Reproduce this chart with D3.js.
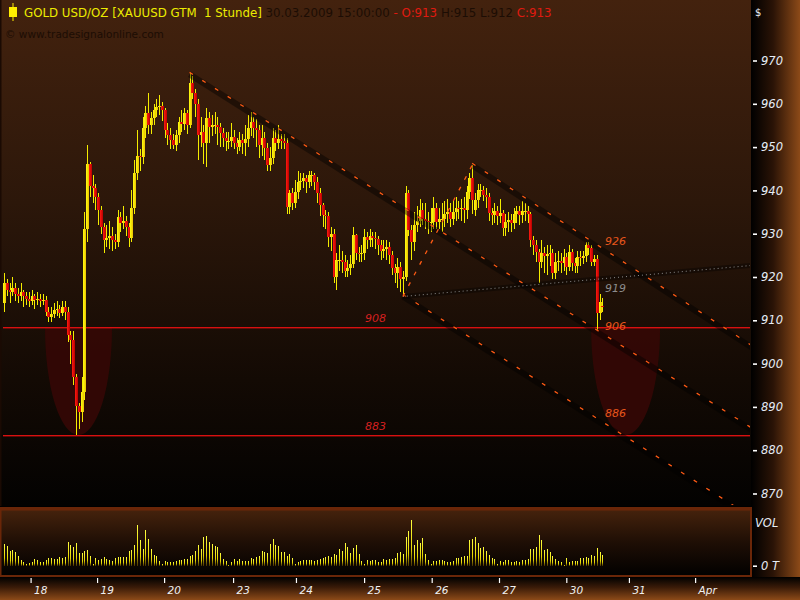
<!DOCTYPE html>
<html><head><meta charset="utf-8">
<script src="https://cdn.jsdelivr.net/npm/d3@7"></script>
<style>html,body{margin:0;padding:0;background:#000;}svg{display:block}</style>
</head><body>
<svg id="chart" width="800" height="600"></svg>
<script>
const opens = [
914,918.5,917,916.5,917.5,916,915.5,916.5,915.5,915,
914.5,915.5,914.8,915,914.5,914.8,912,910.8,911.5,912.3,
912.5,911.8,913,912,906.5,905.5,897,890.3,888.8,893.4,
931,946,941,940.5,938.5,935.5,931.5,928.5,929,929.5,
928.5,928,933.8,932.4,933,931.5,929,936,944,948,
947.7,954.4,957.9,955,956.7,958.6,959.3,959.6,958.6,954,
952.8,951.6,950.5,952.8,955.8,955.3,957.9,955,964.8,962.5,
960,952.8,953.5,951,956.7,954.6,955,955.2,954.6,953.3,
952,951.5,951.5,952.3,951,950,951.6,951,951.8,954.4,
955.8,954.4,954,950.5,952,949.8,945.9,947.5,952,951,
951.8,951.3,951,936.2,939.4,937,939.7,942,942.2,942.8,
942,943.5,943.5,942,939.4,936.6,934.3,934,929.2,930,
920,923.9,924,923.5,921.5,922,923,929.6,925.6,925.3,
925.5,929.2,928.5,929.5,929,928.8,927.4,925.9,926.5,927,
925,922,920.9,922.3,919.5,920,939.4,930.8,928,932,
933,935.5,933.5,933,932.7,932.8,935.9,932.7,933.5,933.5,
934.5,935,933.5,935,936,935.8,936,935.4,939.6,942.8,
935.5,937.7,940,940.2,939,938.5,934.8,934.3,935.3,934.2,
934.8,931.3,932.8,933.2,932.5,934.5,935.2,934.3,935.3,935.3,
934.5,928.5,927.4,925.8,923.5,925.5,924.8,925.2,925.6,921,
923.5,923.8,923.2,924.6,922.3,925.8,923.2,922.5,924.6,924.4,
924.8,927.4,926.8,923.5,924.2,911.7,913.4];
const highs = [
921,919.5,918.5,920,918.5,917.5,918.5,917,916.5,916.5,
917,916,916.5,916,916,915.5,913,913,914,914.5,
913.5,914.5,914.5,913,907.5,907.5,897.5,891,897,935,
950.5,946.5,943.5,941.5,939.5,936.5,932.5,932,933,931.5,
930,935.5,935,936.5,934,932.5,940,947,954,949.5,
957,959.5,962.5,958,960,961,962,960.5,959,955.5,
954.5,953,954,957,958.5,959,958.5,967,966.5,963.5,
961,957,955,959,958,957.5,958,957,955.5,954.5,
953.5,953.5,955.5,954,952,953.5,953,955,957.5,958,
957,956.5,955,955,953.5,951,950,954.5,954,955,
953,953,952,940,940.5,942.5,944.5,944,944,943.5,
944.5,944.5,944,943,940.5,937,935.5,935,931.5,931,
925.5,927.5,926,925,924,925,931.5,930,927,927.5,
931,930.5,931,930.5,930.5,929.5,928.5,928.5,928.5,928,
926,923,924.5,923.5,921.5,941,940,932,935,936.5,
938,937,937,935,936,938.5,937,936,937,937.5,
938,937,937.5,938.5,937.5,938,938.5,941,944,945.8,
939.5,941.5,941.5,941,940.5,939.5,936,937,936.5,938,
935.5,934.5,935,934.5,936,936.5,936.5,937.5,937,936.5,
935,929.5,928.5,926.5,928.5,927,927.5,927.5,926.5,925.5,
926,925.5,926.5,925.5,927.5,926.5,924.5,926,926,926,
928,928,927.5,925,925,916,915.2];
const lows = [
912,915.5,914,915.5,914.5,914,914.5,913,913.5,913,
913.5,912.5,913.5,913,913.5,911,909.5,909.5,910.5,911,
910.5,911,910,905,900,895,883.5,885,886.5,891.5,
928,938.5,937,935.5,932,930,925.5,927,926.5,926,
926.5,927,930.5,931,929.5,927,928,934.5,942.5,944.5,
946,952,953,953,955,957,957.5,956,952,950.5,
949.5,949.5,949,951,953.5,954,953,954.5,961,957,
947,950,946,945.5,951,952.5,953,950.5,950,950,
949,949.5,950,949.5,948.5,949,948.5,948,950,952.5,
952,950,947.5,948,947,944.5,944.5,946,949,949.5,
949.5,949.5,934.5,934.5,935.5,936,938,940,940.5,939.5,
940.5,941,940,937,934,931.5,931,927,926,918.5,
917,921.5,921,920,920,920.5,922,924,923.5,923.5,
924,926.5,927,927,926.5,925,924,924.5,924,923,
920.5,918.5,917.5,916.5,915.5,919,929.5,924,926,930.5,
931.5,932,931,930,930.5,931,931,931,930.5,931.5,
932.5,931.5,932,933,933.5,933,932.5,933.5,938,934.5,
934,936,938.5,937.5,936,933,932,932.5,932,932.5,
929.5,929.5,930.5,930.5,931,932.5,932,932.5,933,932.5,
927,925,923.5,918.5,922,921,920.5,922.5,919.5,919.5,
921.5,921,921.5,920.5,921.5,921.5,921,921,922.5,923,
923.5,925,922.5,922.5,907.5,910,912];
const closes = [
918.5,917,916.5,917.5,916,915.5,916.5,915.5,915,914.5,
915.5,914.8,915,914.5,914.8,912,910.8,911.5,912.3,912.5,
911.8,913,912,906.5,905.5,897,890.3,888.8,893.4,931,
946,941,940.5,938.5,935.5,931.5,928.5,929,929.5,928.5,
928,933.8,932.4,933,931.5,929,936,944,948,947.7,
954.4,957.9,955,956.7,958.6,959.3,959.6,958.6,954,952.8,
951.6,950.5,952.8,955.8,955.3,957.9,955,964.8,962.5,960,
952.8,953.5,951,956.7,954.6,955,955.2,954.6,953.3,952,
951.5,951.5,952.3,951,950,951.6,951,951.8,954.4,955.8,
954.4,954,950.5,952,949.8,945.9,947.5,952,951,951.8,
951.3,951,936.2,939.4,937,939.7,942,942.2,942.8,942,
943.5,943.5,942,939.4,936.6,934.3,934,929.2,930,920,
923.9,924,923.5,921.5,922,923,929.6,925.6,925.3,925.5,
929.2,928.5,929.5,929,928.8,927.4,925.9,926.5,927,925,
922,920.9,922.3,919.5,920,939.4,930.8,928,932,933,
935.5,933.5,933,932.7,932.8,935.9,932.7,933.5,933.5,934.5,
935,933.5,935,936,935.8,936,935.4,939.6,942.8,937.8,
937.7,940,940.2,939,938.5,934.8,934.3,935.3,934.2,934.8,
931.3,932.8,933.2,932.5,934.5,935.2,934.3,935.3,935.3,934.5,
928.5,927.4,925.8,923.5,925.5,924.8,925.2,925.6,921,923.5,
923.8,923.2,924.6,922.3,925.8,923.2,922.5,924.6,924.4,924.8,
927.4,926.8,923.5,924.2,911.7,914.2,913];
const volumes = [
65,59,44,47,41,29,17,11,5,9,
11,20,17,11,11,17,23,23,20,20,
26,23,26,71,62,56,68,38,38,44,
47,29,5,23,17,20,26,20,17,14,
23,26,26,26,26,44,47,62,122,77,
50,107,80,50,32,29,14,5,14,11,
11,11,14,17,17,20,20,29,32,44,
62,50,86,89,71,65,59,56,38,20,
14,2,11,20,14,20,14,14,14,23,
20,26,29,44,41,38,65,80,62,59,
41,41,29,35,23,5,11,14,17,17,
17,17,14,17,20,23,26,29,26,35,
32,50,44,68,56,38,53,62,35,14,
5,17,14,17,17,11,11,20,17,20,
20,23,38,41,35,
86,104,137,62,77,68,83,35,17,5,
14,14,17,17,14,11,11,14,23,23,
26,29,29,77,80,86,68,53,56,44,
32,23,20,5,14,11,17,17,11,11,
14,11,17,17,20,50,50,56,92,77,
47,50,41,29,20,14,11,2,23,11,
14,14,14,23,23,26,23,32,29,53,
41,32];
const dayTicks = [9.6,33.6,57.8,82.7,105.4,130,154.4,178.7,203,225.6,249.5];
const dayLabels = ["18","19","20","23","24","25","26","27","30","31","Apr"];
const priceTicks = [970,960,950,940,930,920,910,900,890,880,870];
const levelValues = [908.4, 883.5];
const levelLabels = ["908","883"];
const cupCenters = [26.9, 224.4];
const cupHalfWidths = [12.1, 12.45];
const trendNames = ["A","B","C"];
const trendStartIdx = [67,169,144];
const trendStartPrice = [966.8,945.8,915.5];
const trendRefIdx = [216,216,216];
const trendRefPrice = [906.5,926.2,886.1];
const dottedLine = {i1:144,p1:915.5,i2:216,p2:919.6};
const vLeg = {i1:144,p1:915.5,i2:169,p2:945.8};
const rightLabels = [{t:"926",c:"#e8561c",y:245},{t:"919",c:"#8c8c8c",y:292},{t:"906",c:"#e8561c",y:330},{t:"886",c:"#e8561c",y:417}];

const svg = d3.select("#chart");
const defs = svg.append("defs");
function lin(id, x2, y2, stops){
  const g = defs.append("linearGradient").attr("id",id).attr("x1",0).attr("y1",0).attr("x2",x2).attr("y2",y2);
  stops.forEach(s=>g.append("stop").attr("offset",s[0]).attr("stop-color",s[1]));
}
lin("gMain",0,1,[[0,"#43220e"],[0.4,"#2c170a"],[0.75,"#130a04"],[1,"#030201"]]);
lin("gRight",1,0,[[0,"#000000"],[0.45,"#2a1306"],[1,"#8c4a18"]]);
lin("gBottom",0,1,[[0,"#000000"],[0.45,"#3a1b08"],[1,"#8c4a18"]]);
lin("gVolBg",0,1,[[0,"#44220c"],[0.5,"#1e0e05"],[1,"#020100"]]);
lin("gVol",0,1,[[0,"#ffff40"],[0.65,"#e4d400"],[1,"#4a3400"]]);
lin("gUp",1,0,[[0,"#ffff10"],[1,"#e8c000"]]);
lin("gDn",1,0,[[0,"#ff1a10"],[1,"#b80000"]]);
defs.append("clipPath").attr("id","clipPlot").append("rect").attr("x",3).attr("y",0).attr("width",747).attr("height",505);

svg.append("rect").attr("width",800).attr("height",600).attr("fill","#000");
svg.append("rect").attr("x",0).attr("y",577).attr("width",800).attr("height",23).attr("fill","url(#gBottom)");
svg.append("rect").attr("x",751).attr("y",0).attr("width",49).attr("height",577).attr("fill","url(#gRight)");
svg.append("rect").attr("x",0).attr("y",0).attr("width",751).attr("height",506).attr("fill","url(#gMain)");
svg.append("rect").attr("x",0).attr("y",0).attr("width",1.5).attr("height",506).attr("fill","#1a0a03");
svg.append("rect").attr("x",0).attr("y",507).attr("width",752).attr("height",70).attr("fill","#6a2608");
svg.append("rect").attr("x",1.5).attr("y",510.5).attr("width",748.5).attr("height",64.5).attr("fill","url(#gVolBg)");

const x = d3.scaleLinear().domain([0,270]).range([4, 4+270*2.77]);
const y = d3.scaleLinear().domain([870,970]).range([493.5,60.5]);
const yv = d3.scaleLinear().domain([0,162]).range([565.7,511.7]);

const plot = svg.append("g").attr("clip-path","url(#clipPlot)");

cupCenters.forEach((c,k)=>{
  const cx = x(c), rx = x(c+cupHalfWidths[k]) - cx;
  const yt = y(levelValues[0]), yb = y(levelValues[1]);
  plot.append("path").attr("d",`M${cx-rx},${yt} A${rx},${yb-yt} 0 0 0 ${cx+rx},${yt} Z`)
    .attr("fill","#340805").attr("opacity",0.92);
});
levelValues.forEach((v,k)=>{
  plot.append("rect").attr("x",3).attr("width",747).attr("y",Math.round(y(v))).attr("height",1.4)
    .attr("fill","#d81010");
  svg.append("text").attr("x",365).attr("y",y(v)-5).text(levelLabels[k])
    .attr("fill","#d42020").attr("font-family","DejaVu Sans").attr("font-style","italic").attr("font-size",11);
});

const idx = d3.range(closes.length);
const cg = plot.append("g").attr("shape-rendering","crispEdges");
cg.selectAll("line.w").data(idx).join("line").attr("class","w")
  .attr("x1",i=>Math.round(x(i))+0.5).attr("x2",i=>Math.round(x(i))+0.5)
  .attr("y1",i=>y(highs[i])).attr("y2",i=>y(lows[i]))
  .attr("stroke","#f4ec00").attr("stroke-width",1);
cg.selectAll("rect.b").data(idx).join("rect").attr("class","b")
  .attr("x",i=>Math.round(x(i))-1).attr("width",3)
  .attr("y",i=>y(Math.max(opens[i],closes[i])))
  .attr("height",i=>Math.max(1,Math.abs(y(opens[i])-y(closes[i]))))
  .attr("fill",i=>closes[i]>=opens[i]?"url(#gUp)":"url(#gDn)");

const xEnd = 270;
function extend(i1,p1,i2,p2){ const s=(p2-p1)/(i2-i1); return [[i1,p1],[xEnd,p1+s*(xEnd-i1)]]; }
const lineGen = d3.line().x(d=>x(d[0])).y(d=>y(d[1]));
trendNames.forEach((n,k)=>{
  const pts = extend(trendStartIdx[k],trendStartPrice[k],trendRefIdx[k],trendRefPrice[k]);
  plot.append("path").attr("d",lineGen(pts)).attr("stroke","rgba(0,0,0,0.42)").attr("stroke-width",6).attr("fill","none");
  plot.append("path").attr("d",lineGen(pts)).attr("transform","translate(0,-2)").attr("stroke","#ff5a14")
    .attr("stroke-width",1.3).attr("stroke-dasharray","4,11").attr("fill","none");
});
const dpts = extend(dottedLine.i1,dottedLine.p1,dottedLine.i2,dottedLine.p2);
plot.append("path").attr("d",lineGen(dpts)).attr("stroke","rgba(0,0,0,0.35)").attr("stroke-width",5).attr("fill","none");
plot.append("path").attr("d",lineGen(dpts)).attr("stroke","#8a8a8a").attr("stroke-width",1).attr("stroke-dasharray","1,3").attr("fill","none");
plot.append("path").attr("d",lineGen([[vLeg.i1,vLeg.p1],[vLeg.i2,vLeg.p2]])).attr("stroke","#ff5a14")
  .attr("stroke-width",1.3).attr("stroke-dasharray","4,8").attr("fill","none");

rightLabels.forEach(l=>{
  svg.append("text").attr("x",605).attr("y",l.y).text(l.t).attr("fill",l.c)
    .attr("font-family","DejaVu Sans").attr("font-style","italic").attr("font-size",11);
});

svg.append("g").attr("shape-rendering","crispEdges").selectAll("rect").data(volumes).join("rect")
  .attr("x",(d,i)=>Math.round(x(i))).attr("width",1)
  .attr("y",d=>yv(d)).attr("height",d=>yv(0)-yv(d)).attr("fill","url(#gVol)");

const axisFont = g=>g.selectAll("text").attr("fill","#e6ecf5").attr("font-family","DejaVu Sans").attr("font-style","italic").attr("font-size",11.5);
const ya = svg.append("g").attr("transform","translate(753,0)")
  .call(d3.axisRight(y).tickValues(priceTicks).tickSize(4).tickPadding(4).tickFormat(d3.format("d")));
ya.select(".domain").remove();
ya.selectAll("line").attr("stroke","#ffffff").attr("stroke-width",1.6);
ya.call(axisFont);
const va = svg.append("g").attr("transform","translate(753,0)")
  .call(d3.axisRight(yv).tickValues([0]).tickSize(4).tickPadding(4).tickFormat(()=>"0 T"));
va.select(".domain").remove();
va.selectAll("line").attr("stroke","#ffffff").attr("stroke-width",1.6);
va.call(axisFont);
svg.append("text").attr("x",755).attr("y",527).text("VOL").attr("fill","#e6ecf5").attr("font-family","DejaVu Sans").attr("font-style","italic").attr("font-size",11.5);
svg.append("text").attr("x",755).attr("y",16).text("$").attr("fill","#e6ecf5").attr("font-family","DejaVu Sans").attr("font-size",10);

const xa = svg.append("g").attr("transform","translate(0,578)")
  .call(d3.axisBottom(x).tickValues(dayTicks).tickSize(5).tickPadding(4).tickFormat((d,i)=>dayLabels[i]));
xa.select(".domain").remove();
xa.selectAll("line").attr("stroke","#ffffff").attr("stroke-width",1.2);
xa.selectAll("text").attr("text-anchor","start").attr("dx",3).attr("fill","#f0f0f0")
  .attr("font-family","DejaVu Sans").attr("font-style","italic").attr("font-size",10.5);

svg.append("line").attr("x1",13).attr("x2",13).attr("y1",3).attr("y2",21).attr("stroke","#ffee00").attr("stroke-width",1);
svg.append("rect").attr("x",9).attr("y",7).attr("width",8).attr("height",10).attr("fill","#ffee00");
const n = closes.length-1;
const ht = svg.append("text").attr("x",24).attr("y",17).attr("font-family","DejaVu Sans").attr("font-size",11.8).attr("xml:space","preserve");
ht.append("tspan").attr("fill","#ecec00").text("GOLD USD/OZ [XAUUSD GTM  1 Stunde] ");
ht.append("tspan").attr("fill","#1c0d04").text("30.03.2009 15:00:00 ");
ht.append("tspan").attr("fill","#e01a10").text("- O:"+Math.round(opens[n])+" ");
ht.append("tspan").attr("fill","#1c0d04").text("H:"+Math.round(highs[n])+" L:"+Math.round(lows[n])+" ");
ht.append("tspan").attr("fill","#e01a10").text("C:"+Math.round(closes[n]));
svg.append("text").attr("x",5).attr("y",38).attr("font-family","DejaVu Sans").attr("font-size",10.5)
  .attr("fill","#1c0d04").text("© www.tradesignalonline.com");
</script>
</body></html>
